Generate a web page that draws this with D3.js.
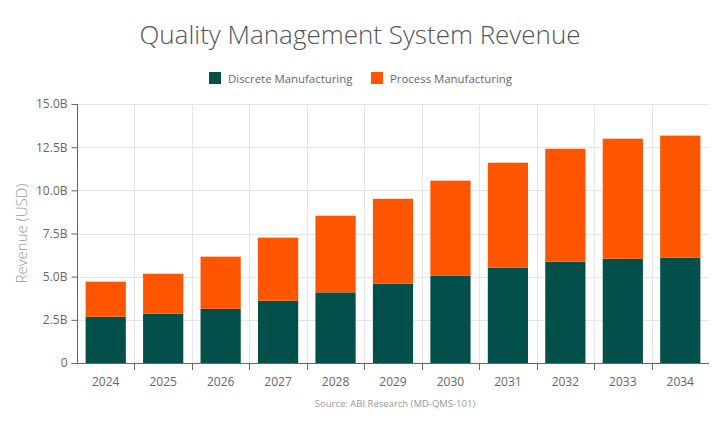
<!DOCTYPE html>
<html lang="en">
	<head>
		<meta charset="utf-8">
		<title>Quality Management System Revenue</title>
		<script src="https://d3js.org/d3.v7.min.js"></script>
		<style>
			body { margin: 0; background: #fff; }
			text { font-family: "Open Sans", "Noto Sans", sans-serif; }
		</style>
	</head>
	<body>
		<script type="text/javascript">
			// data (billions USD)
			var years = ["2024", "2025", "2026", "2027", "2028", "2029", "2030", "2031", "2032", "2033", "2034"]
			var discrete = [2.68, 2.85, 3.14, 3.61, 4.09, 4.59, 5.05, 5.52, 5.87, 6.04, 6.10]
			var process = [2.03, 2.32, 3.02, 3.65, 4.44, 4.92, 5.51, 6.08, 6.54, 6.95, 7.07]
			var seriesNames = ["Discrete Manufacturing", "Process Manufacturing"]
			var yTicks = [0, 2.5, 5, 7.5, 10, 12.5, 15]

			var colors = ["#03504a", "#ff5500"]

			// window size setup
			var w = 720
			var h = 440
			var margin = { top: 104, right: 11, bottom: 77, left: 77 }

			var table = years.map(function(y, i) {
				return { year: y, d0: discrete[i], d1: process[i] }
			})
			var stack = d3.stack().keys(["d0", "d1"])(table)

			// scales
			var xScale = d3.scaleBand()
							.domain(years)
							.range([margin.left, w - margin.right])
							.paddingInner(0.3)
							.paddingOuter(0.15)
			var yScale = d3.scaleLinear()
							.domain([0, 15])
							.range([h - margin.bottom, margin.top])

			var svg = d3.select("body")
						.append("svg")
						.attr("width", w)
						.attr("height", h)

			// grid
			var bandEdges = d3.range(1, years.length).map(function(i) {
				return margin.left + i * (w - margin.left - margin.right) / years.length
			})
			svg.append("g")
				.selectAll("line")
				.data(yTicks.slice(1))
				.enter()
				.append("line")
				.attr("x1", margin.left)
				.attr("x2", w - margin.right)
				.attr("y1", function(d) { return Math.round(yScale(d)) + 0.5 })
				.attr("y2", function(d) { return Math.round(yScale(d)) + 0.5 })
				.attr("stroke", "#e6e6e6")
			svg.append("g")
				.selectAll("line")
				.data(bandEdges)
				.enter()
				.append("line")
				.attr("x1", function(d) { return Math.round(d) + 0.5 })
				.attr("x2", function(d) { return Math.round(d) + 0.5 })
				.attr("y1", margin.top)
				.attr("y2", h - margin.bottom)
				.attr("stroke", "#e6e6e6")

			// bars
			svg.append("g")
				.selectAll("g")
				.data(stack)
				.enter()
				.append("g")
				.attr("fill", function(d, i) { return colors[i] })
				.selectAll("rect")
				.data(function(d) { return d })
				.enter()
				.append("rect")
				.attr("x", function(d) { return xScale(d.data.year) })
				.attr("y", function(d) { return yScale(d[1]) })
				.attr("width", xScale.bandwidth())
				.attr("height", function(d) { return yScale(d[0]) - yScale(d[1]) })

			// y axis
			var yAxis = d3.axisLeft(yScale)
							.tickValues(yTicks)
							.tickSize(6)
							.tickPadding(4)
							.tickFormat(function(d) { return d === 0 ? "0" : d3.format(".1f")(d) + "B" })
			var gy = svg.append("g")
						.attr("transform", "translate(" + (margin.left + 0.5) + ",0)")
						.call(yAxis)
			gy.select(".domain").attr("stroke", "#666").attr("d", "M0," + margin.top + "V" + (h - margin.bottom))
			gy.selectAll(".tick line").attr("stroke", "#666")
			gy.selectAll("text").attr("fill", "#666").attr("font-size", "12px")
				.attr("font-family", "\"Open Sans\", sans-serif")

			// x axis: ticks sit between bands
			var gx = svg.append("g")
			gx.append("line")
				.attr("x1", margin.left)
				.attr("x2", w - margin.right)
				.attr("y1", h - margin.bottom + 0.5)
				.attr("y2", h - margin.bottom + 0.5)
				.attr("stroke", "#666")
			gx.selectAll(".xtick")
				.data(bandEdges)
				.enter()
				.append("line")
				.attr("x1", function(d) { return Math.round(d) + 0.5 })
				.attr("x2", function(d) { return Math.round(d) + 0.5 })
				.attr("y1", h - margin.bottom)
				.attr("y2", h - margin.bottom + 7)
				.attr("stroke", "#666")
			gx.selectAll("text")
				.data(years)
				.enter()
				.append("text")
				.attr("x", function(d) { return xScale(d) + xScale.bandwidth() / 2 })
				.attr("y", h - margin.bottom + 23)
				.attr("text-anchor", "middle")
				.attr("font-size", "12px")
				.attr("fill", "#666")
				.text(function(d) { return d })

			// y label
			svg.append("text")
				.attr("transform", "translate(27," + ((margin.top + h - margin.bottom) / 2) + ") rotate(-90)")
				.attr("text-anchor", "middle")
				.attr("font-size", "15px")
				.attr("font-weight", 300)
				.attr("fill", "#929aa3")
				.text("Revenue (USD)")

			// title
			svg.append("text")
				.attr("x", 360)
				.attr("y", 44)
				.attr("text-anchor", "middle")
				.attr("font-size", "26px")
				.attr("font-weight", 300)
				.attr("fill", "#555")
				.text("Quality Management System Revenue")

			// legend
			var legendX = [209, 371]
			var legend = svg.append("g")
							.selectAll("g")
							.data(seriesNames)
							.enter()
							.append("g")
							.attr("transform", function(d, i) { return "translate(" + legendX[i] + ",72)" })
			legend.append("rect")
				.attr("width", 12)
				.attr("height", 12)
				.attr("fill", function(d, i) { return colors[i] })
			legend.append("text")
				.attr("x", 19)
				.attr("y", 10.5)
				.attr("font-size", "11.4px")
				.attr("fill", "#666")
				.text(function(d) { return d })

			// source
			svg.append("text")
				.attr("x", 395)
				.attr("y", 407)
				.attr("text-anchor", "middle")
				.attr("font-size", "9.5px")
				.attr("fill", "#999")
				.text("Source: ABI Research (MD-QMS-101)")
		</script>
	</body>
</html>
